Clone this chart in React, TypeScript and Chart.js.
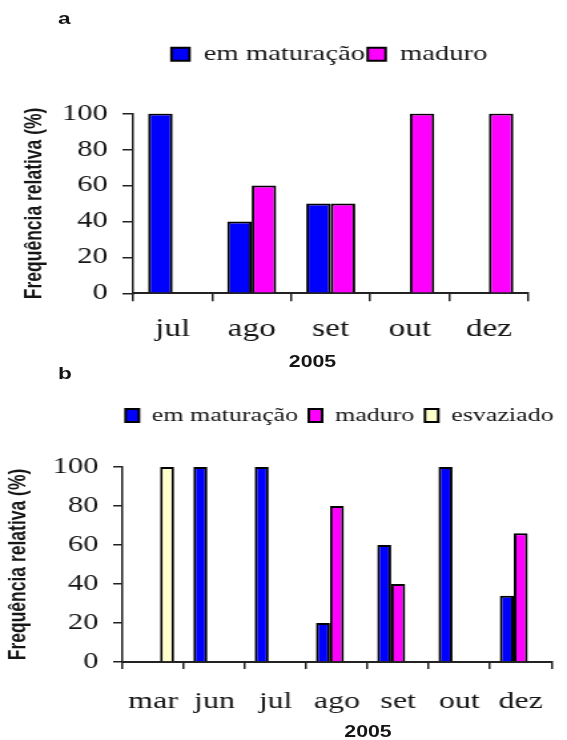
import React, { useEffect, useRef } from 'react';
import { Chart, registerables } from 'chart.js';

Chart.register(...registerables);

// The reference figure is stretched horizontally; we draw at an inner width and scale it.
const OUTER_W = 567;
const INNER_W = 426;
const STRETCH = OUTER_W / INNER_W;
const PANEL_H = 370;

// ---------- data: panel a ----------
const categoriesA = ['jul', 'ago', 'set', 'out', 'dez'];
const emMaturacaoA = [100, 40, 50, 0, 0];
const maduroA = [0, 60, 50, 100, 100];

// ---------- data: panel b ----------
const categoriesB = ['mar', 'jun', 'jul', 'ago', 'set', 'out', 'dez'];
const emMaturacaoB = [0, 100, 100, 20, 60, 100, 34];
const maduroB = [0, 0, 0, 80, 40, 0, 66];
const esvaziadoB = [100, 0, 0, 0, 0, 0, 0];

// ---------- shared labels ----------
const seriesLabels = ['em maturação', 'maduro', 'esvaziado'];
const seriesColors = ['#0000ff', '#ff00ff', '#ffffcc'];
const yMin = 0;
const yMax = 100;
const yStep = 20;
const yAxisTitle = 'Frequência relativa (%)';
const xAxisTitle = '2005';
const panelLabels = ['a', 'b'];

const SERIF = '"Liberation Serif", "Times New Roman", serif';
const SANS = '"Liberation Sans", Arial, sans-serif';
const INK = '#151515';
const AXIS = '#222';

type PanelSpec = {
  categories: string[];
  series: number[][];
  legendTop: number;
  legendDx: number;
  legendPadding: number;
  legendFont: number;
  boxW: number;
  boxH: number;
  padTop: number;
  padRight: number;
  padBottom: number;
  yWidth: number;
  yTitlePadTop: number;
  yTickLen: number;
  xTickLen: number;
  xTickPad: number;
  xFont: number;
  catPct: number;
};

const specA: PanelSpec = {
  categories: categoriesA,
  series: [emMaturacaoA, maduroA],
  legendTop: 41.5,
  legendDx: -1,
  legendPadding: 2,
  legendFont: 21.5,
  boxW: 13.5,
  boxH: 13,
  padTop: 80,
  padRight: 29,
  padBottom: 12.7,
  yWidth: 100,
  yTitlePadTop: 16,
  yTickLen: 8,
  xTickLen: 8,
  xTickPad: 13,
  xFont: 25,
  catPct: 0.62,
};

const specB: PanelSpec = {
  categories: categoriesB,
  series: [emMaturacaoB, maduroB, esvaziadoB],
  legendTop: 27.75,
  legendDx: 2,
  legendPadding: 8,
  legendFont: 19.5,
  boxW: 10,
  boxH: 13,
  padTop: 59.5,
  padRight: 1.5,
  padBottom: 6.2,
  yWidth: 92,
  yTitlePadTop: 3.3,
  yTickLen: 7,
  xTickLen: 7,
  xTickPad: 18,
  xFont: 24,
  catPct: 0.685,
};

function Panel({ spec, top }: { spec: PanelSpec; top: number }) {
  const ref = useRef<HTMLCanvasElement | null>(null);

  useEffect(() => {
    if (!ref.current) return;
    // Centre the legend over the plot area (not the whole canvas) and place it vertically.
    const legendPlacer = {
      id: 'legendPlacer',
      afterLayout(chart: any) {
        const lg = chart.legend;
        if (!lg) return;
        const ca = chart.chartArea;
        const w = lg.right - lg.left;
        const h = lg.bottom - lg.top;
        const c = (ca.left + ca.right) / 2 + spec.legendDx;
        lg.left = c - w / 2;
        lg.right = c + w / 2;
        lg.top = spec.legendTop;
        lg.bottom = spec.legendTop + h;
      },
    };
    const chart = new Chart(ref.current, {
      type: 'bar',
      data: {
        labels: spec.categories,
        datasets: spec.series.map((d, i) => ({
          label: seriesLabels[i],
          data: d,
          backgroundColor: seriesColors[i],
          borderColor: '#000',
          borderWidth: 2,
          categoryPercentage: spec.catPct,
          barPercentage: 1,
        })),
      },
      options: {
        animation: false,
        responsive: false,
        devicePixelRatio: 1,
        events: [],
        layout: {
          padding: { top: spec.padTop, right: spec.padRight, bottom: spec.padBottom, left: 0 },
        },
        plugins: {
          legend: {
            display: true,
            position: 'top',
            align: 'center',
            labels: {
              boxWidth: spec.boxW,
              boxHeight: spec.boxH,
              padding: spec.legendPadding,
              color: INK,
              font: { family: SERIF, size: spec.legendFont },
            },
          },
          tooltip: { enabled: false },
          title: { display: false },
        },
        scales: {
          x: {
            ticks: {
              color: INK,
              padding: spec.xTickPad,
              font: { family: SERIF, size: spec.xFont },
              maxRotation: 0,
              autoSkip: false,
            },
            grid: {
              offset: true,
              drawOnChartArea: false,
              drawTicks: true,
              tickLength: spec.xTickLen,
              color: AXIS,
              lineWidth: 1.5,
            },
            border: { display: true, color: AXIS, width: 2 },
          },
          y: {
            min: yMin,
            max: yMax,
            ticks: {
              stepSize: yStep,
              color: INK,
              padding: 11,
              font: { family: SERIF, size: 23 },
            },
            grid: {
              drawOnChartArea: false,
              drawTicks: true,
              tickLength: spec.yTickLen,
              color: AXIS,
              lineWidth: 1.5,
            },
            border: { display: true, color: AXIS, width: 1.5 },
            title: {
              display: true,
              text: yAxisTitle,
              color: INK,
              font: { family: SANS, weight: 'bold', size: 17.5 },
              padding: { top: spec.yTitlePadTop, bottom: 0 },
            },
            afterFit: (scale: any) => {
              scale.width = spec.yWidth;
            },
          },
        },
      },
      plugins: [legendPlacer],
    } as any);
    return () => chart.destroy();
  }, [spec]);

  return (
    <canvas
      ref={ref}
      width={INNER_W}
      height={PANEL_H}
      style={{ position: 'absolute', left: 0, top, width: INNER_W, height: PANEL_H }}
    />
  );
}

const labelStyle = (left: number, top: number, size: number): React.CSSProperties => ({
  position: 'absolute',
  left,
  top,
  fontFamily: SANS,
  fontWeight: 'bold',
  fontSize: size,
  lineHeight: 1,
  color: INK,
  whiteSpace: 'nowrap',
});

const centeredStyle = (center: number, top: number, size: number): React.CSSProperties => ({
  ...labelStyle(center - 50, top, size),
  width: 100,
  textAlign: 'center',
});

export default function App() {
  return (
    <div
      style={{
        position: 'absolute',
        left: 0,
        top: 0,
        width: OUTER_W,
        height: PANEL_H * 2,
        overflow: 'hidden',
        background: '#fff',
      }}
    >
      <div
        style={{
          position: 'absolute',
          left: 0,
          top: 0,
          width: INNER_W,
          height: PANEL_H * 2,
          transform: `scaleX(${STRETCH})`,
          transformOrigin: '0 0',
        }}
      >
        <Panel spec={specA} top={0} />
        <Panel spec={specB} top={PANEL_H} />
        <div style={labelStyle(43.6, 10, 17)}>{panelLabels[0]}</div>
        <div style={labelStyle(43.6, 365, 17)}>{panelLabels[1]}</div>
        <div style={centeredStyle(234.8, 353.5, 16)}>{xAxisTitle}</div>
        <div style={centeredStyle(276.5, 723.5, 16)}>{xAxisTitle}</div>
      </div>
    </div>
  );
}
